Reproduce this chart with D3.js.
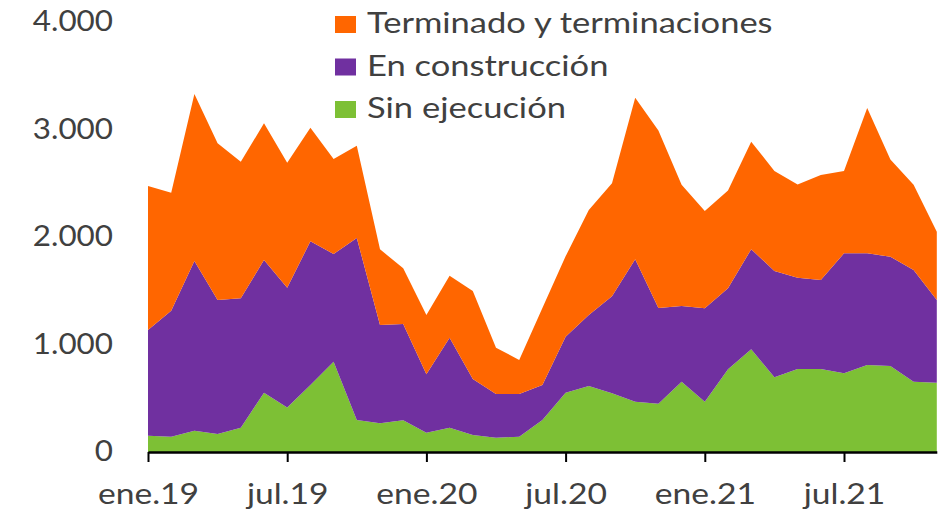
<!DOCTYPE html>
<html>
<head>
<meta charset="utf-8">
<script src="https://cdn.jsdelivr.net/npm/d3@7"></script>
<style>
  html, body { margin: 0; padding: 0; background: #fff; }
  svg { display: block; }
  text { font-family: Lato, "Open Sans", sans-serif; fill: #404040; }
</style>
</head>
<body>
<svg id="chart" width="938" height="516"></svg>
<script>
const months = ["ene.19","feb.19","mar.19","abr.19","may.19","jun.19","jul.19","ago.19","sep.19","oct.19","nov.19","dic.19",
  "ene.20","feb.20","mar.20","abr.20","may.20","jun.20","jul.20","ago.20","sep.20","oct.20","nov.20","dic.20",
  "ene.21","feb.21","mar.21","abr.21","may.21","jun.21","jul.21","ago.21","sep.21","oct.21","nov.21"];
const sinEjecucion = [152,143,198,167,226,552,415,623,840,298,267,295,180,226,158,133,143,298,552,614,546,468,450,654,468,769,955,695,772,772,732,809,800,654,645];
const enConstruccion = [983,1172,1579,1247,1204,1234,1114,1337,1002,1693,914,895,543,837,521,407,397,325,521,660,902,1325,890,704,869,754,931,989,850,828,1116,1039,1017,1039,769];
const terminado = [1339,1097,1553,1457,1270,1271,1162,1057,883,859,704,520,551,577,819,430,316,717,747,977,1052,1502,1650,1129,905,909,1001,930,866,977,766,1352,903,793,636];
const seriesNames = ["Sin ejecución","En construcción","Terminado y terminaciones"];
const seriesColors = ["#7DC035","#7030A0","#FF6600"];
const yTicks = [0,1000,2000,3000,4000];
const xTickLabels = ["ene.19","jul.19","ene.20","jul.20","ene.21","jul.21"];

const rows = months.map((m,i) => ({
  month: m,
  "Sin ejecución": sinEjecucion[i],
  "En construcción": enConstruccion[i],
  "Terminado y terminaciones": terminado[i]
}));

const svg = d3.select("#chart");
const x = d3.scalePoint().domain(months).range([148, 936.8]);
const y = d3.scaleLinear().domain([0, 4000]).range([452, 22]);

const stacked = d3.stack().keys(seriesNames)(rows);
const area = d3.area()
  .x(d => x(d.data.month))
  .y0(d => y(d[0]))
  .y1(d => y(d[1]));

svg.append("g").selectAll("path")
  .data(stacked)
  .join("path")
  .attr("d", area)
  .attr("fill", (d,i) => seriesColors[i]);

function stretch(sel, factor) {
  sel.each(function() {
    const len = this.getComputedTextLength();
    d3.select(this).attr("textLength", len * factor).attr("lengthAdjust", "spacingAndGlyphs");
  });
}

// y axis labels
const loc = d3.formatLocale({decimal: ",", thousands: ".", grouping: [3], currency: ["", ""]});
const fmt = loc.format(",d");
const yAxis = d3.axisLeft(y).tickValues(yTicks).tickFormat(fmt).tickSize(0).tickPadding(0);
const gy = svg.append("g").attr("transform", "translate(113,0)").call(yAxis);
gy.select(".domain").remove();
gy.selectAll("text").attr("font-size", 28).attr("fill", "#404040").style("font-family", "Lato, sans-serif");
stretch(gy.selectAll("text"), 1.12);

// x axis
const xAxis = d3.axisBottom(x)
  .tickValues(xTickLabels)
  .tickSize(10)
  .tickSizeOuter(0)
  .tickPadding(22);
const gx = svg.append("g").attr("transform", "translate(0,452)").call(xAxis);
gx.select(".domain").attr("stroke", "#000").attr("stroke-width", 2.5);
gx.selectAll(".tick line").attr("stroke", "#000").attr("stroke-width", 2);
gx.selectAll("text").attr("font-size", 28).attr("fill", "#404040").style("font-family", "Lato, sans-serif");
stretch(gx.selectAll("text"), 1.2);

// legend
const legendOrder = ["Terminado y terminaciones","En construcción","Sin ejecución"];
const lg = svg.append("g").attr("transform", "translate(335,0)");
legendOrder.forEach((name, i) => {
  const col = seriesColors[seriesNames.indexOf(name)];
  const yy = 33 + i * 42.5;
  lg.append("rect").attr("x", 0).attr("y", yy - 17).attr("width", 21).attr("height", 17).attr("fill", col);
  lg.append("text").attr("x", 32).attr("y", yy).attr("font-size", 29).text(name);
});
stretch(lg.selectAll("text"), 1.19);
</script>
</body>
</html>
